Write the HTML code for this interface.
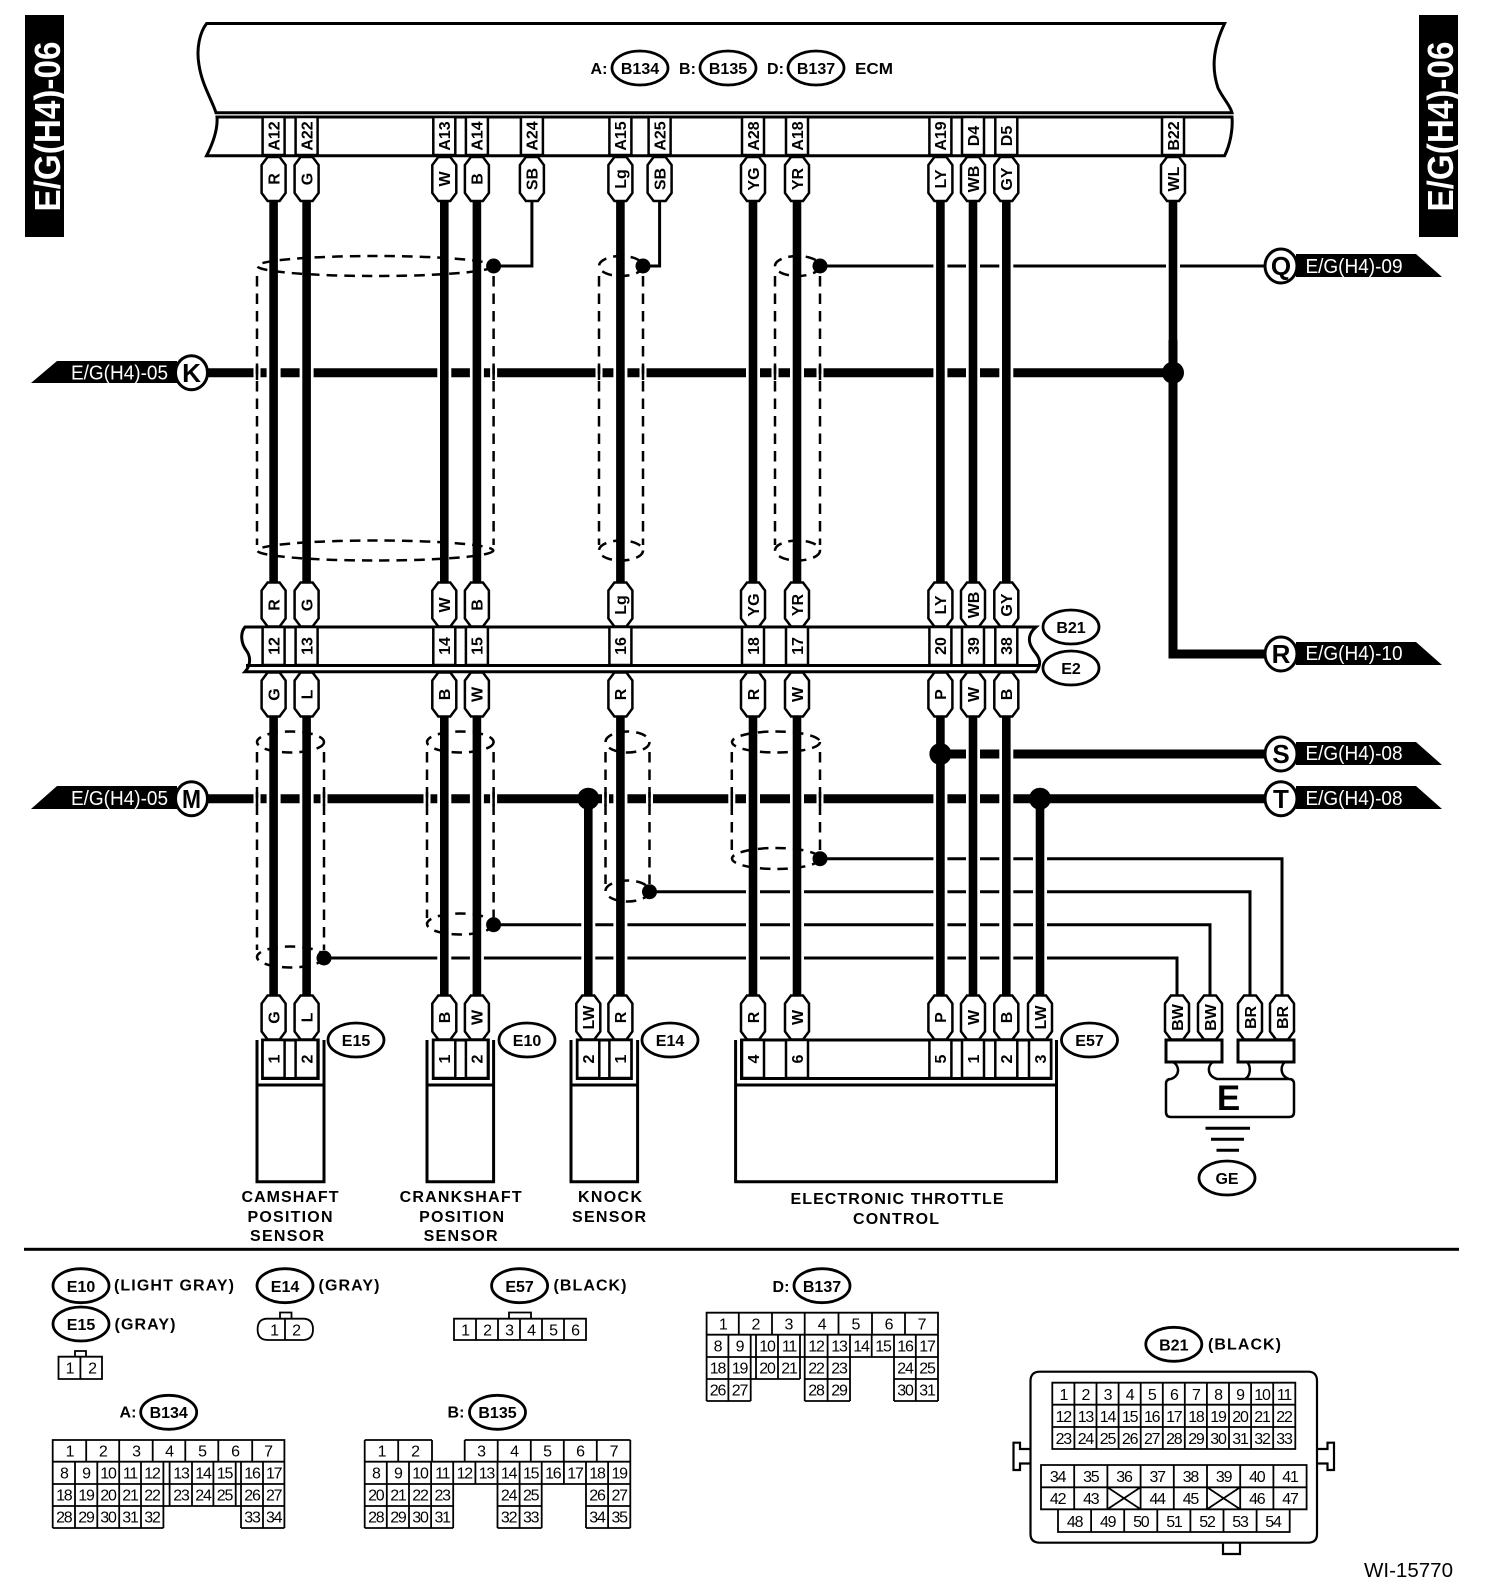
<!DOCTYPE html>
<html><head><meta charset="utf-8"><style>
html,body{margin:0;padding:0;background:#fff}
svg{display:block}
text{font-family:"Liberation Sans",sans-serif;fill:#000;text-anchor:middle}
.b{font-weight:700;font-size:16px}
.o{font-weight:700;font-size:16px}
.n{font-size:16px;letter-spacing:-1.2px}
.l{font-weight:700;font-size:16px}
.w{fill:#fff;font-size:20px}
.c{font-weight:700;font-size:26px}
</style></head><body>
<svg xmlns="http://www.w3.org/2000/svg" width="1504" height="1592" viewBox="0 0 1504 1592">
<defs>
<path id="p" d="M-6,0H6L12,8V36L6,44H-6L-12,36V8Z" fill="#fff" stroke="#000" stroke-width="2.5"/>
<rect id="q" x="-11" y="0" width="22" height="38" fill="#fff" stroke="#000" stroke-width="2.5"/>
<ellipse id="e" cx="0" cy="0" rx="28" ry="17" fill="#fff" stroke="#000" stroke-width="2.8"/>
<ellipse id="k" cx="0" cy="0" rx="16" ry="17" fill="#fff" stroke="#000" stroke-width="3"/>
</defs>

<!-- side bars -->
<rect x="25" y="15" width="39" height="222"/>
<rect x="1419" y="15" width="39" height="222"/>
<text transform="translate(60 126.5)rotate(-90)" font-size="36" font-weight="700" style="fill:#fff" textLength="170" lengthAdjust="spacingAndGlyphs">E/G(H4)-06</text>
<text transform="translate(1453 126.5)rotate(-90)" font-size="36" font-weight="700" style="fill:#fff" textLength="170" lengthAdjust="spacingAndGlyphs">E/G(H4)-06</text>

<!-- ECM -->
<path d="M206.6,23.5H1224.6C1212,50 1212,70 1218,88C1224,100 1230,105 1232,112.7H216C212,100 202,85 199,65C196,48 200,32 206.6,23.5Z" fill="#fff" stroke="#000" stroke-width="3"/>
<path d="M217,117H1232C1233,130 1230,145 1224.6,155.7H206.6C212,145 218,130 217,117Z" fill="#fff" stroke="#000" stroke-width="3"/>
<text x="599" y="74" class="o">A:</text><use href="#e" x="640" y="68"/><text x="640" y="74" class="o">B134</text>
<text x="687.5" y="74" class="o">B:</text><use href="#e" x="728" y="68"/><text x="728" y="74" class="o">B135</text>
<text x="775.5" y="74" class="o">D:</text><use href="#e" x="816" y="68"/><text x="816" y="74" class="o">B137</text>
<text x="874" y="74" class="o" textLength="38" lengthAdjust="spacingAndGlyphs">ECM</text>

<!-- horizontal wires -->
<g fill="none" stroke="#000">
<path stroke-width="9" d="M205,372.7H1173M205,798.7H1270M940,754H1270"/>
<path stroke-width="3" d="M820,266H1270M494,266H531.9V200M643,266H659.6V200M820,858.7H1282V1000M649.5,891.7H1250V1000M493.6,924.7H1210V1000M324,958H1177V1000"/>
<path stroke-width="9" d="M1173,340V654H1270"/>
</g>

<!-- white halos -->
<path fill="none" stroke="#fff" stroke-width="14" d="M273.6,201V583M306.6,201V583M444.3,201V583M476.9,201V583M620.4,201V583M753,201V583M797,201V583M940.4,201V583M973,201V583M1006.3,201V583M1173,201V340M273.6,716V995M306.6,716V995M444.3,716V995M476.9,716V995M620.4,716V995M753,716V995M797,716V995M940.4,766V995M973,716V995M1006.3,716V995M588.3,812V995M1040,812V995"/>
<path fill="none" stroke="#fff" stroke-width="7" d="M257,366V380M493.6,366V380M599,366V380M643,366V380M775,366V380M820,366V380M257,792V806M324,792V806M427,792V806M493.6,792V806M605.5,792V806M649.5,792V806M731.8,792V806M820,792V806"/>

<!-- thick verticals -->
<path fill="none" stroke="#000" stroke-width="8.6" d="M273.6,200V584M306.6,200V584M444.3,200V584M476.9,200V584M620.4,200V584M753,200V584M797,200V584M940.4,200V584M973,200V584M1006.3,200V584M1173,200V372M273.6,715V996M306.6,715V996M444.3,715V996M476.9,715V996M620.4,715V996M753,715V996M797,715V996M940.4,715V996M973,715V996M1006.3,715V996M588.3,799V996M1040,799V996"/>

<!-- shields -->
<g fill="none" stroke="#000" stroke-width="2.5" stroke-dasharray="10.5 7">
<ellipse cx="375.3" cy="266" rx="118" ry="10"/><ellipse cx="375.3" cy="550.5" rx="118" ry="10"/>
<path d="M257,276V545M493.6,276V545"/>
<ellipse cx="621" cy="266" rx="22" ry="10"/><ellipse cx="621" cy="550.5" rx="22" ry="10"/>
<path d="M599,276V545M643,276V545"/>
<ellipse cx="797.5" cy="266" rx="22.5" ry="10"/><ellipse cx="797.5" cy="550.5" rx="22.5" ry="10"/>
<path d="M775,276V545M820,276V545"/>
<ellipse cx="290.5" cy="742" rx="33.5" ry="10.5"/><ellipse cx="290.5" cy="957" rx="33.5" ry="10.5"/>
<path d="M257,752V950M324,752V950"/>
<ellipse cx="460.3" cy="742" rx="33.3" ry="10.5"/><ellipse cx="460.3" cy="924" rx="33.3" ry="10.5"/>
<path d="M427,752V918M493.6,752V918"/>
<ellipse cx="627.5" cy="742" rx="22" ry="10.5"/><ellipse cx="627.5" cy="891" rx="22" ry="10.5"/>
<path d="M605.5,752V884M649.5,752V884"/>
<ellipse cx="776" cy="742" rx="44" ry="10.5"/><ellipse cx="776" cy="858.5" rx="44" ry="10.5"/>
<path d="M731.8,752V852M820,752V852"/>
</g>
<path fill="none" stroke="#000" stroke-width="2.5" d="M257,366V380M493.6,366V380M599,366V380M643,366V380M775,366V380M820,366V380M257,792V806M324,792V806M427,792V806M493.6,792V806M605.5,792V806M649.5,792V806M731.8,792V806M820,792V806"/>

<!-- nodes -->
<circle cx="1173" cy="372.7" r="11"/><circle cx="588.3" cy="798.7" r="11"/><circle cx="1040" cy="798.7" r="11"/><circle cx="940.4" cy="754" r="11"/>
<circle cx="493.6" cy="266" r="7.5"/><circle cx="643" cy="266" r="7.5"/><circle cx="820" cy="266" r="7.5"/>
<circle cx="820" cy="858.7" r="7.5"/><circle cx="649.5" cy="891.7" r="7.5"/><circle cx="493.6" cy="924.7" r="7.5"/><circle cx="324" cy="958" r="7.5"/>

<!-- top pins -->
<g>
<use href="#q" x="273.6" y="117"/><use href="#q" x="306.6" y="117"/><use href="#q" x="444.3" y="117"/><use href="#q" x="476.9" y="117"/><use href="#q" x="531.9" y="117"/><use href="#q" x="620.4" y="117"/><use href="#q" x="659.6" y="117"/><use href="#q" x="753" y="117"/><use href="#q" x="797" y="117"/><use href="#q" x="940.4" y="117"/><use href="#q" x="973" y="117"/><use href="#q" x="1006.3" y="117"/><use href="#q" x="1173" y="117"/>
<use href="#p" x="273.6" y="157"/><use href="#p" x="306.6" y="157"/><use href="#p" x="444.3" y="157"/><use href="#p" x="476.9" y="157"/><use href="#p" x="531.9" y="157"/><use href="#p" x="620.4" y="157"/><use href="#p" x="659.6" y="157"/><use href="#p" x="753" y="157"/><use href="#p" x="797" y="157"/><use href="#p" x="940.4" y="157"/><use href="#p" x="973" y="157"/><use href="#p" x="1006.3" y="157"/><use href="#p" x="1173" y="157"/>
</g>
<text class="b" dy=".36em" transform="translate(273.6 136)rotate(-90)">A12</text>
<text class="b" dy=".36em" transform="translate(306.6 136)rotate(-90)">A22</text>
<text class="b" dy=".36em" transform="translate(444.3 136)rotate(-90)">A13</text>
<text class="b" dy=".36em" transform="translate(476.9 136)rotate(-90)">A14</text>
<text class="b" dy=".36em" transform="translate(531.9 136)rotate(-90)">A24</text>
<text class="b" dy=".36em" transform="translate(620.4 136)rotate(-90)">A15</text>
<text class="b" dy=".36em" transform="translate(659.6 136)rotate(-90)">A25</text>
<text class="b" dy=".36em" transform="translate(753 136)rotate(-90)">A28</text>
<text class="b" dy=".36em" transform="translate(797 136)rotate(-90)">A18</text>
<text class="b" dy=".36em" transform="translate(940.4 136)rotate(-90)">A19</text>
<text class="b" dy=".36em" transform="translate(973 136)rotate(-90)">D4</text>
<text class="b" dy=".36em" transform="translate(1006.3 136)rotate(-90)">D5</text>
<text class="b" dy=".36em" transform="translate(1173 136)rotate(-90)">B22</text>
<text class="b" dy=".36em" transform="translate(273.6 179)rotate(-90)">R</text>
<text class="b" dy=".36em" transform="translate(306.6 179)rotate(-90)">G</text>
<text class="b" dy=".36em" transform="translate(444.3 179)rotate(-90)">W</text>
<text class="b" dy=".36em" transform="translate(476.9 179)rotate(-90)">B</text>
<text class="b" dy=".36em" transform="translate(531.9 179)rotate(-90)">SB</text>
<text class="b" dy=".36em" transform="translate(620.4 179)rotate(-90)">Lg</text>
<text class="b" dy=".36em" transform="translate(659.6 179)rotate(-90)">SB</text>
<text class="b" dy=".36em" transform="translate(753 179)rotate(-90)">YG</text>
<text class="b" dy=".36em" transform="translate(797 179)rotate(-90)">YR</text>
<text class="b" dy=".36em" transform="translate(940.4 179)rotate(-90)">LY</text>
<text class="b" dy=".36em" transform="translate(973 179)rotate(-90)">WB</text>
<text class="b" dy=".36em" transform="translate(1006.3 179)rotate(-90)">GY</text>
<text class="b" dy=".36em" transform="translate(1173 179)rotate(-90)">WL</text>

<!-- junction connector -->
<path d="M245,627H1036C1027,635 1028,643 1034,651C1040,658 1042,664 1036,671.7H245C252,664 250,655 246,650C241,643 240,633 245,627Z" fill="#fff" stroke="#000" stroke-width="3"/>
<path d="M246,665.5H1038" stroke="#000" stroke-width="3"/>
<use href="#q" x="273.6" y="627"/><use href="#q" x="306.6" y="627"/><use href="#q" x="444.3" y="627"/><use href="#q" x="476.9" y="627"/><use href="#q" x="620.4" y="627"/><use href="#q" x="753" y="627"/><use href="#q" x="797" y="627"/><use href="#q" x="940.4" y="627"/><use href="#q" x="973" y="627"/><use href="#q" x="1006.3" y="627"/>
<use href="#p" x="273.6" y="582.5"/><use href="#p" x="306.6" y="582.5"/><use href="#p" x="444.3" y="582.5"/><use href="#p" x="476.9" y="582.5"/><use href="#p" x="620.4" y="582.5"/><use href="#p" x="753" y="582.5"/><use href="#p" x="797" y="582.5"/><use href="#p" x="940.4" y="582.5"/><use href="#p" x="973" y="582.5"/><use href="#p" x="1006.3" y="582.5"/>
<use href="#p" x="273.6" y="672.5"/><use href="#p" x="306.6" y="672.5"/><use href="#p" x="444.3" y="672.5"/><use href="#p" x="476.9" y="672.5"/><use href="#p" x="620.4" y="672.5"/><use href="#p" x="753" y="672.5"/><use href="#p" x="797" y="672.5"/><use href="#p" x="940.4" y="672.5"/><use href="#p" x="973" y="672.5"/><use href="#p" x="1006.3" y="672.5"/>
<text class="b" dy=".36em" transform="translate(273.6 605)rotate(-90)">R</text>
<text class="b" dy=".36em" transform="translate(306.6 605)rotate(-90)">G</text>
<text class="b" dy=".36em" transform="translate(444.3 605)rotate(-90)">W</text>
<text class="b" dy=".36em" transform="translate(476.9 605)rotate(-90)">B</text>
<text class="b" dy=".36em" transform="translate(620.4 605)rotate(-90)">Lg</text>
<text class="b" dy=".36em" transform="translate(753 605)rotate(-90)">YG</text>
<text class="b" dy=".36em" transform="translate(797 605)rotate(-90)">YR</text>
<text class="b" dy=".36em" transform="translate(940.4 605)rotate(-90)">LY</text>
<text class="b" dy=".36em" transform="translate(973 605)rotate(-90)">WB</text>
<text class="b" dy=".36em" transform="translate(1006.3 605)rotate(-90)">GY</text>
<text class="b" dy=".36em" transform="translate(273.6 646)rotate(-90)">12</text>
<text class="b" dy=".36em" transform="translate(306.6 646)rotate(-90)">13</text>
<text class="b" dy=".36em" transform="translate(444.3 646)rotate(-90)">14</text>
<text class="b" dy=".36em" transform="translate(476.9 646)rotate(-90)">15</text>
<text class="b" dy=".36em" transform="translate(620.4 646)rotate(-90)">16</text>
<text class="b" dy=".36em" transform="translate(753 646)rotate(-90)">18</text>
<text class="b" dy=".36em" transform="translate(797 646)rotate(-90)">17</text>
<text class="b" dy=".36em" transform="translate(940.4 646)rotate(-90)">20</text>
<text class="b" dy=".36em" transform="translate(973 646)rotate(-90)">39</text>
<text class="b" dy=".36em" transform="translate(1006.3 646)rotate(-90)">38</text>
<text class="b" dy=".36em" transform="translate(273.6 694.5)rotate(-90)">G</text>
<text class="b" dy=".36em" transform="translate(306.6 694.5)rotate(-90)">L</text>
<text class="b" dy=".36em" transform="translate(444.3 694.5)rotate(-90)">B</text>
<text class="b" dy=".36em" transform="translate(476.9 694.5)rotate(-90)">W</text>
<text class="b" dy=".36em" transform="translate(620.4 694.5)rotate(-90)">R</text>
<text class="b" dy=".36em" transform="translate(753 694.5)rotate(-90)">R</text>
<text class="b" dy=".36em" transform="translate(797 694.5)rotate(-90)">W</text>
<text class="b" dy=".36em" transform="translate(940.4 694.5)rotate(-90)">P</text>
<text class="b" dy=".36em" transform="translate(973 694.5)rotate(-90)">W</text>
<text class="b" dy=".36em" transform="translate(1006.3 694.5)rotate(-90)">B</text>
<use href="#e" x="1071" y="627"/><text x="1071" y="633" class="o">B21</text>
<use href="#e" x="1071" y="668"/><text x="1071" y="674" class="o">E2</text>

<!-- tags -->
<polygon points="31,383 57,361 177,361 177,383"/>
<polygon points="31,809 57,786 177,786 177,809"/>
<polygon points="1296,254 1416,254 1442,277 1296,277"/>
<polygon points="1296,642 1416,642 1442,665 1296,665"/>
<polygon points="1296,742 1416,742 1442,765 1296,765"/>
<polygon points="1296,786 1416,786 1442,809 1296,809"/>
<text x="119.5" y="379.5" class="w" style="fill:#fff" textLength="97" lengthAdjust="spacingAndGlyphs">E/G(H4)-05</text>
<text x="119.5" y="805" class="w" style="fill:#fff" textLength="97" lengthAdjust="spacingAndGlyphs">E/G(H4)-05</text>
<text x="1354" y="273" class="w" style="fill:#fff" textLength="97" lengthAdjust="spacingAndGlyphs">E/G(H4)-09</text>
<text x="1354" y="660" class="w" style="fill:#fff" textLength="97" lengthAdjust="spacingAndGlyphs">E/G(H4)-10</text>
<text x="1354" y="760" class="w" style="fill:#fff" textLength="97" lengthAdjust="spacingAndGlyphs">E/G(H4)-08</text>
<text x="1354" y="805" class="w" style="fill:#fff" textLength="97" lengthAdjust="spacingAndGlyphs">E/G(H4)-08</text>
<use href="#k" x="191.5" y="372.7"/><text x="191.5" y="382" class="c">K</text>
<use href="#k" x="191.5" y="798.7"/><text x="191.5" y="808" class="c" textLength="19" lengthAdjust="spacingAndGlyphs">M</text>
<use href="#k" x="1281" y="266"/><text x="1281" y="275" class="c">Q</text>
<use href="#k" x="1281" y="654"/><text x="1281" y="663" class="c">R</text>
<use href="#k" x="1281" y="754"/><text x="1281" y="763" class="c">S</text>
<use href="#k" x="1281" y="798.7"/><text x="1281" y="808" class="c">T</text>

<!-- sensors -->
<g fill="#fff" stroke="#000" stroke-width="3">
<path d="M257,1040V1181.7H324V1040M257,1085H324M427,1040V1181.7H493.6V1040M427,1085H493.6M571,1040V1181.7H637.6V1040M571,1085H637.6M735.6,1040V1181.7H1056.5V1040M735.6,1085H1056.5"/>
<rect x="262.6" y="1040" width="55.6" height="38.5"/>
<rect x="433.3" y="1040" width="55" height="38.5"/>
<rect x="577.3" y="1040" width="54" height="38.5"/>
<rect x="741.5" y="1040" width="309.5" height="38.5"/>
</g>
<use href="#q" x="273.6" y="1040"/><use href="#q" x="306.6" y="1040"/><use href="#q" x="444.3" y="1040"/><use href="#q" x="476.9" y="1040"/><use href="#q" x="588.3" y="1040"/><use href="#q" x="620.4" y="1040"/><use href="#q" x="753" y="1040"/><use href="#q" x="797" y="1040"/><use href="#q" x="940.4" y="1040"/><use href="#q" x="973" y="1040"/><use href="#q" x="1006.3" y="1040"/><use href="#q" x="1040" y="1040"/>
<use href="#p" x="273.6" y="995.5"/><use href="#p" x="306.6" y="995.5"/><use href="#p" x="444.3" y="995.5"/><use href="#p" x="476.9" y="995.5"/><use href="#p" x="588.3" y="995.5"/><use href="#p" x="620.4" y="995.5"/><use href="#p" x="753" y="995.5"/><use href="#p" x="797" y="995.5"/><use href="#p" x="940.4" y="995.5"/><use href="#p" x="973" y="995.5"/><use href="#p" x="1006.3" y="995.5"/><use href="#p" x="1040" y="995.5"/>
<use href="#p" x="1177" y="995.5"/><use href="#p" x="1210" y="995.5"/><use href="#p" x="1250" y="995.5"/><use href="#p" x="1282" y="995.5"/>
<text class="b" dy=".36em" transform="translate(273.6 1017.5)rotate(-90)">G</text>
<text class="b" dy=".36em" transform="translate(306.6 1017.5)rotate(-90)">L</text>
<text class="b" dy=".36em" transform="translate(444.3 1017.5)rotate(-90)">B</text>
<text class="b" dy=".36em" transform="translate(476.9 1017.5)rotate(-90)">W</text>
<text class="b" dy=".36em" transform="translate(588.3 1017.5)rotate(-90)">LW</text>
<text class="b" dy=".36em" transform="translate(620.4 1017.5)rotate(-90)">R</text>
<text class="b" dy=".36em" transform="translate(753 1017.5)rotate(-90)">R</text>
<text class="b" dy=".36em" transform="translate(797 1017.5)rotate(-90)">W</text>
<text class="b" dy=".36em" transform="translate(940.4 1017.5)rotate(-90)">P</text>
<text class="b" dy=".36em" transform="translate(973 1017.5)rotate(-90)">W</text>
<text class="b" dy=".36em" transform="translate(1006.3 1017.5)rotate(-90)">B</text>
<text class="b" dy=".36em" transform="translate(1040 1017.5)rotate(-90)">LW</text>
<text class="b" dy=".36em" transform="translate(1177 1017.5)rotate(-90)">BW</text>
<text class="b" dy=".36em" transform="translate(1210 1017.5)rotate(-90)">BW</text>
<text class="b" dy=".36em" transform="translate(1250 1017.5)rotate(-90)">BR</text>
<text class="b" dy=".36em" transform="translate(1282 1017.5)rotate(-90)">BR</text>
<text class="b" dy=".36em" transform="translate(273.6 1059)rotate(-90)">1</text>
<text class="b" dy=".36em" transform="translate(306.6 1059)rotate(-90)">2</text>
<text class="b" dy=".36em" transform="translate(444.3 1059)rotate(-90)">1</text>
<text class="b" dy=".36em" transform="translate(476.9 1059)rotate(-90)">2</text>
<text class="b" dy=".36em" transform="translate(588.3 1059)rotate(-90)">2</text>
<text class="b" dy=".36em" transform="translate(620.4 1059)rotate(-90)">1</text>
<text class="b" dy=".36em" transform="translate(753 1059)rotate(-90)">4</text>
<text class="b" dy=".36em" transform="translate(797 1059)rotate(-90)">6</text>
<text class="b" dy=".36em" transform="translate(940.4 1059)rotate(-90)">5</text>
<text class="b" dy=".36em" transform="translate(973 1059)rotate(-90)">1</text>
<text class="b" dy=".36em" transform="translate(1006.3 1059)rotate(-90)">2</text>
<text class="b" dy=".36em" transform="translate(1040 1059)rotate(-90)">3</text>
<use href="#e" x="356" y="1040"/><text x="356" y="1046" class="o">E15</text>
<use href="#e" x="527" y="1040"/><text x="527" y="1046" class="o">E10</text>
<use href="#e" x="670" y="1040"/><text x="670" y="1046" class="o">E14</text>
<use href="#e" x="1089.5" y="1040"/><text x="1089.5" y="1046" class="o">E57</text>

<!-- ground E -->
<g fill="#fff" stroke="#000" stroke-width="3">
<rect x="1166" y="1040" width="56" height="22"/>
<rect x="1238" y="1040" width="56" height="22"/>
<path fill="none" stroke-width="2.5" d="M1173,1062C1180,1066 1180,1076 1171,1079Q1166,1079 1166,1084V1112Q1166,1117 1171,1117H1289Q1294,1117 1294,1112V1084Q1294,1079 1289,1079C1280,1076 1280,1066 1285,1062M1213,1062C1207,1066 1207,1076 1217,1079H1289M1247,1062C1251,1066 1251,1076 1245,1079"/>
</g>
<text x="1228.5" y="1110" font-size="35" font-weight="700">E</text>
<path d="M1205.5,1128.3H1250M1211,1139.3H1244M1216.5,1150.3H1239" stroke="#000" stroke-width="3"/>
<use href="#e" x="1227" y="1178"/><text x="1227" y="1184" class="o">GE</text>

<!-- sensor labels -->
<text x="290" y="1202" class="l" textLength="97" lengthAdjust="spacing">CAMSHAFT</text>
<text x="290" y="1222" class="l" textLength="85" lengthAdjust="spacing">POSITION</text>
<text x="287" y="1241" class="l" textLength="74" lengthAdjust="spacing">SENSOR</text>
<text x="460.6" y="1202" class="l" textLength="122" lengthAdjust="spacing">CRANKSHAFT</text>
<text x="461.6" y="1222" class="l" textLength="85" lengthAdjust="spacing">POSITION</text>
<text x="460.6" y="1241" class="l" textLength="74" lengthAdjust="spacing">SENSOR</text>
<text x="610" y="1202" class="l" textLength="64" lengthAdjust="spacing">KNOCK</text>
<text x="609" y="1222" class="l" textLength="74" lengthAdjust="spacing">SENSOR</text>
<text x="897" y="1204" class="l" textLength="213" lengthAdjust="spacing">ELECTRONIC THROTTLE</text>
<text x="896" y="1224" class="l" textLength="86" lengthAdjust="spacing">CONTROL</text>

<rect x="24" y="1247.8" width="1435" height="3"/>

<!-- legend -->
<use href="#e" x="81" y="1285.7"/><text x="81" y="1292" class="o">E10</text>
<text x="174" y="1290.5" class="l" textLength="120" lengthAdjust="spacing">(LIGHT GRAY)</text>
<use href="#e" x="81" y="1324"/><text x="81" y="1330" class="o">E15</text>
<text x="145" y="1329.5" class="l" textLength="61" lengthAdjust="spacing">(GRAY)</text>
<use href="#e" x="285" y="1285.7"/><text x="285" y="1292" class="o">E14</text>
<text x="349" y="1290.5" class="l" textLength="61" lengthAdjust="spacing">(GRAY)</text>
<use href="#e" x="519.6" y="1285.7"/><text x="519.6" y="1292" class="o">E57</text>
<text x="590" y="1290.5" class="l" textLength="73" lengthAdjust="spacing">(BLACK)</text>
<text x="128" y="1417.5" class="o">A:</text><use href="#e" x="168.7" y="1412.3"/><text x="168.7" y="1418" class="o">B134</text>
<text x="456" y="1417.5" class="o">B:</text><use href="#e" x="497.5" y="1412.3"/><text x="497.5" y="1418" class="o">B135</text>
<text x="781" y="1292" class="o">D:</text><use href="#e" x="822" y="1285.7"/><text x="822" y="1292" class="o">B137</text>
<use href="#e" x="1173.8" y="1344.3"/><text x="1173.8" y="1350.7" class="o">B21</text>
<text x="1244.5" y="1349.7" class="l" textLength="73" lengthAdjust="spacing">(BLACK)</text>

<g fill="none" stroke="#000" stroke-width="1.8">
<!-- E15 -->
<path d="M58.5,1356.7H102V1379H58.5ZM80.4,1356.7V1379M75,1356.7V1351H86V1356.7"/>
<!-- E14 -->
<path d="M267.6,1318.7H303Q313,1318.7 313,1329.3T303,1340H267.6Q257.6,1340 257.6,1329.3T267.6,1318.7ZM285,1318.7V1340M280,1318.7V1312.5H291.5V1318.7"/>
<!-- E57 -->
<path d="M454,1318.7H586V1340H454ZM476,1318.7V1340M498,1318.7V1340M520,1318.7V1340M542,1318.7V1340M564,1318.7V1340M509,1318.7V1312.5H531V1318.7"/>
<!-- A -->
<path d="M52.7,1440H284.4V1461.7H52.7ZM86.2,1440V1461.7M119.2,1440V1461.7M152.7,1440V1461.7M185.3,1440V1461.7M218.3,1440V1461.7M252.2,1440V1461.7M52.7,1484H284.4M52.7,1506H284.4M52.7,1528H163.4M241,1528H284.4M52.7,1461.7V1528M75,1461.7V1528M97.3,1461.7V1528M119.2,1461.7V1528M141,1461.7V1528M163.4,1461.7V1528M241,1461.7V1528M263,1461.7V1528M284.4,1461.7V1528M169.6,1461.7V1506M192,1461.7V1506M213.4,1461.7V1506M235.7,1461.7V1506"/>
<!-- B -->
<path d="M364.7,1440H432M464.7,1440H630.3M364.7,1461.7H630.3M364.7,1484H630.3M364.7,1506H453.2M497.5,1506H541.7M586,1506H630.3M364.7,1528H453.2M497.5,1528H541.7M586,1528H630.3M364.7,1440V1528M398.2,1440V1461.7M432,1440V1461.7M464.7,1440V1461.7M497.7,1440V1461.7M530.8,1440V1461.7M563.8,1440V1461.7M596.8,1440V1461.7M630.3,1440V1528M386.8,1461.7V1528M409,1461.7V1528M431.1,1461.7V1528M453.2,1461.7V1528M475.4,1461.7V1484M497.5,1461.7V1528M519.6,1461.7V1528M541.7,1461.7V1528M563.9,1461.7V1484M586,1461.7V1528M608.1,1461.7V1528"/>
<!-- D -->
<path d="M706.6,1312.7H938V1334.7H706.6ZM738.8,1312.7V1334.7M772,1312.7V1334.7M804.7,1312.7V1334.7M838.5,1312.7V1334.7M872,1312.7V1334.7M905,1312.7V1334.7M706.6,1357H938M706.6,1379H800M804.7,1379H850M894,1379H938M706.6,1401H750.7M804.7,1401H850M894,1401H938M706.6,1334.7V1401M728.4,1334.7V1401M750.7,1334.7V1401M756,1334.7V1379M778,1334.7V1379M800,1334.7V1379M804.7,1334.7V1401M827.6,1334.7V1401M850,1334.7V1401M871.7,1334.7V1357M894,1334.7V1401M915.8,1334.7V1401M938,1334.7V1401"/>
<!-- B21 housing -->
<path d="M1040,1371.7H1308Q1317,1371.7 1317,1381V1534Q1317,1542.7 1308,1542.7H1040Q1030.5,1542.7 1030.5,1534V1381Q1030.5,1371.7 1040,1371.7ZM1030.5,1449H1020V1442.7H1013.5V1470H1020V1463.5H1030.5M1317,1449H1327.5V1442.7H1334V1470H1327.5V1463.5H1317M1223,1542.7V1554H1240V1542.7" stroke-width="2.2"/>
<path d="M1052.3,1382.7H1295.3V1449H1052.3ZM1052.3,1404.7H1295.3M1052.3,1427H1295.3M1074.4,1382.7V1449M1096.5,1382.7V1449M1118.6,1382.7V1449M1140.7,1382.7V1449M1162.8,1382.7V1449M1184.8,1382.7V1449M1206.9,1382.7V1449M1229,1382.7V1449M1251.1,1382.7V1449M1273.2,1382.7V1449"/>
<path d="M1041,1465H1306.6V1509.3H1041ZM1041,1487.3H1306.6M1074.2,1465V1509.3M1107.4,1465V1509.3M1140.6,1465V1509.3M1173.8,1465V1509.3M1207,1465V1509.3M1240.2,1465V1509.3M1273.4,1465V1509.3M1058,1509.3V1532H1289.7V1509.3M1091.1,1509.3V1532M1124.2,1509.3V1532M1157.3,1509.3V1532M1190.4,1509.3V1532M1223.5,1509.3V1532M1256.6,1509.3V1532M1107.4,1487.3L1140.6,1509.3M1140.6,1487.3L1107.4,1509.3M1207,1487.3L1240.2,1509.3M1240.2,1487.3L1207,1509.3"/>
</g>

<!-- connector numbers -->
<text class="n" x="69.5" y="1373.5">1</text><text class="n" x="92" y="1373.5">2</text>
<text class="n" x="274" y="1335.5">1</text><text class="n" x="296" y="1335.5">2</text>
<text class="n" x="465" y="1335.5">1</text><text class="n" x="487" y="1335.5">2</text><text class="n" x="509" y="1335.5">3</text><text class="n" x="531" y="1335.5">4</text><text class="n" x="553" y="1335.5">5</text><text class="n" x="575" y="1335.5">6</text>

<text class="n" x="69.5" y="1456.5">1</text><text class="n" x="102.7" y="1456.5">2</text><text class="n" x="136" y="1456.5">3</text><text class="n" x="169" y="1456.5">4</text><text class="n" x="202" y="1456.5">5</text><text class="n" x="235" y="1456.5">6</text><text class="n" x="268" y="1456.5">7</text>
<text class="n" x="63.8" y="1478.5">8</text><text class="n" x="86" y="1478.5">9</text><text class="n" x="108" y="1478.5">10</text><text class="n" x="130" y="1478.5">11</text><text class="n" x="152" y="1478.5">12</text><text class="n" x="181" y="1478.5">13</text><text class="n" x="203" y="1478.5">14</text><text class="n" x="224.5" y="1478.5">15</text><text class="n" x="252" y="1478.5">16</text><text class="n" x="273.7" y="1478.5">17</text>
<text class="n" x="63.8" y="1500.5">18</text><text class="n" x="86" y="1500.5">19</text><text class="n" x="108" y="1500.5">20</text><text class="n" x="130" y="1500.5">21</text><text class="n" x="152" y="1500.5">22</text><text class="n" x="181" y="1500.5">23</text><text class="n" x="203" y="1500.5">24</text><text class="n" x="224.5" y="1500.5">25</text><text class="n" x="252" y="1500.5">26</text><text class="n" x="273.7" y="1500.5">27</text>
<text class="n" x="63.8" y="1522.5">28</text><text class="n" x="86" y="1522.5">29</text><text class="n" x="108" y="1522.5">30</text><text class="n" x="130" y="1522.5">31</text><text class="n" x="152" y="1522.5">32</text><text class="n" x="252" y="1522.5">33</text><text class="n" x="273.7" y="1522.5">34</text>

<text class="n" x="381.5" y="1456.5">1</text><text class="n" x="415" y="1456.5">2</text><text class="n" x="481" y="1456.5">3</text><text class="n" x="514" y="1456.5">4</text><text class="n" x="547" y="1456.5">5</text><text class="n" x="580" y="1456.5">6</text><text class="n" x="613.5" y="1456.5">7</text>
<text class="n" x="375.8" y="1478.5">8</text><text class="n" x="397.9" y="1478.5">9</text><text class="n" x="420" y="1478.5">10</text><text class="n" x="442.2" y="1478.5">11</text><text class="n" x="464.3" y="1478.5">12</text><text class="n" x="486.4" y="1478.5">13</text><text class="n" x="508.6" y="1478.5">14</text><text class="n" x="530.7" y="1478.5">15</text><text class="n" x="552.8" y="1478.5">16</text><text class="n" x="575" y="1478.5">17</text><text class="n" x="597" y="1478.5">18</text><text class="n" x="619.2" y="1478.5">19</text>
<text class="n" x="375.8" y="1500.5">20</text><text class="n" x="397.9" y="1500.5">21</text><text class="n" x="420" y="1500.5">22</text><text class="n" x="442.2" y="1500.5">23</text><text class="n" x="508.6" y="1500.5">24</text><text class="n" x="530.7" y="1500.5">25</text><text class="n" x="597" y="1500.5">26</text><text class="n" x="619.2" y="1500.5">27</text>
<text class="n" x="375.8" y="1522.5">28</text><text class="n" x="397.9" y="1522.5">29</text><text class="n" x="420" y="1522.5">30</text><text class="n" x="442.2" y="1522.5">31</text><text class="n" x="508.6" y="1522.5">32</text><text class="n" x="530.7" y="1522.5">33</text><text class="n" x="597" y="1522.5">34</text><text class="n" x="619.2" y="1522.5">35</text>

<text class="n" x="722.7" y="1329.5">1</text><text class="n" x="755.4" y="1329.5">2</text><text class="n" x="788.4" y="1329.5">3</text><text class="n" x="821.6" y="1329.5">4</text><text class="n" x="855.3" y="1329.5">5</text><text class="n" x="888.5" y="1329.5">6</text><text class="n" x="921.5" y="1329.5">7</text>
<text class="n" x="717.5" y="1351.5">8</text><text class="n" x="739.5" y="1351.5">9</text><text class="n" x="767" y="1351.5">10</text><text class="n" x="789" y="1351.5">11</text><text class="n" x="816" y="1351.5">12</text><text class="n" x="839" y="1351.5">13</text><text class="n" x="861" y="1351.5">14</text><text class="n" x="883" y="1351.5">15</text><text class="n" x="905" y="1351.5">16</text><text class="n" x="927" y="1351.5">17</text>
<text class="n" x="717.5" y="1373.5">18</text><text class="n" x="739.5" y="1373.5">19</text><text class="n" x="767" y="1373.5">20</text><text class="n" x="789" y="1373.5">21</text><text class="n" x="816" y="1373.5">22</text><text class="n" x="839" y="1373.5">23</text><text class="n" x="905" y="1373.5">24</text><text class="n" x="927" y="1373.5">25</text>
<text class="n" x="717.5" y="1395.5">26</text><text class="n" x="739.5" y="1395.5">27</text><text class="n" x="816" y="1395.5">28</text><text class="n" x="839" y="1395.5">29</text><text class="n" x="905" y="1395.5">30</text><text class="n" x="927" y="1395.5">31</text>

<text class="n" x="1063.3" y="1400">1</text><text class="n" x="1085.4" y="1400">2</text><text class="n" x="1107.5" y="1400">3</text><text class="n" x="1129.6" y="1400">4</text><text class="n" x="1151.7" y="1400">5</text><text class="n" x="1173.8" y="1400">6</text><text class="n" x="1195.9" y="1400">7</text><text class="n" x="1218" y="1400">8</text><text class="n" x="1240" y="1400">9</text><text class="n" x="1262" y="1400">10</text><text class="n" x="1284" y="1400">11</text>
<text class="n" x="1063.3" y="1422">12</text><text class="n" x="1085.4" y="1422">13</text><text class="n" x="1107.5" y="1422">14</text><text class="n" x="1129.6" y="1422">15</text><text class="n" x="1151.7" y="1422">16</text><text class="n" x="1173.8" y="1422">17</text><text class="n" x="1195.9" y="1422">18</text><text class="n" x="1218" y="1422">19</text><text class="n" x="1240" y="1422">20</text><text class="n" x="1262" y="1422">21</text><text class="n" x="1284" y="1422">22</text>
<text class="n" x="1063.3" y="1444">23</text><text class="n" x="1085.4" y="1444">24</text><text class="n" x="1107.5" y="1444">25</text><text class="n" x="1129.6" y="1444">26</text><text class="n" x="1151.7" y="1444">27</text><text class="n" x="1173.8" y="1444">28</text><text class="n" x="1195.9" y="1444">29</text><text class="n" x="1218" y="1444">30</text><text class="n" x="1240" y="1444">31</text><text class="n" x="1262" y="1444">32</text><text class="n" x="1284" y="1444">33</text>
<text class="n" x="1057.6" y="1482">34</text><text class="n" x="1090.8" y="1482">35</text><text class="n" x="1124" y="1482">36</text><text class="n" x="1157.2" y="1482">37</text><text class="n" x="1190.4" y="1482">38</text><text class="n" x="1223.6" y="1482">39</text><text class="n" x="1256.8" y="1482">40</text><text class="n" x="1290" y="1482">41</text>
<text class="n" x="1057.6" y="1504">42</text><text class="n" x="1090.8" y="1504">43</text><text class="n" x="1157.2" y="1504">44</text><text class="n" x="1190.4" y="1504">45</text><text class="n" x="1256.8" y="1504">46</text><text class="n" x="1290" y="1504">47</text>
<text class="n" x="1074.6" y="1527">48</text><text class="n" x="1107.7" y="1527">49</text><text class="n" x="1140.8" y="1527">50</text><text class="n" x="1173.9" y="1527">51</text><text class="n" x="1207" y="1527">52</text><text class="n" x="1240" y="1527">53</text><text class="n" x="1273" y="1527">54</text>

<text x="1408.5" y="1577" font-size="20" textLength="89" lengthAdjust="spacingAndGlyphs">WI-15770</text>
</svg>
</body></html>
